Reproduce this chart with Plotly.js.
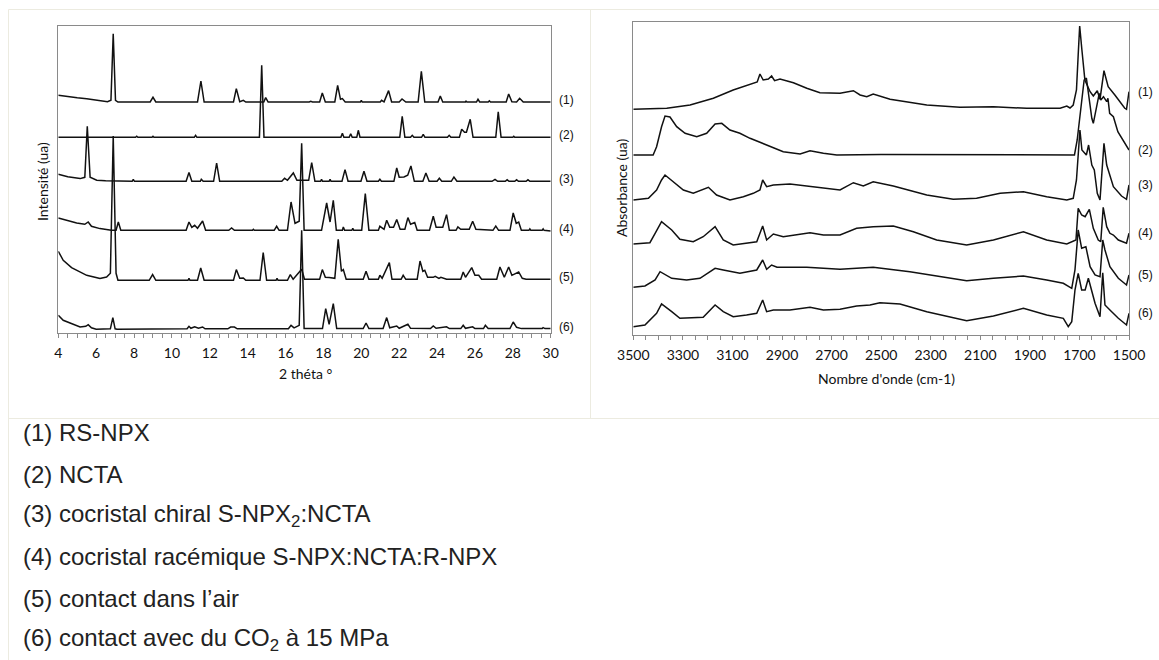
<!DOCTYPE html>
<html>
<head>
<meta charset="utf-8">
<script src="https://cdn.plot.ly/plotly-3.0.1.min.js"></script>
<style>html,body{margin:0;padding:0;background:#fff;}#chart{width:1159px;height:660px;}</style>
</head>
<body>
<div id="chart"></div>
<script>
// ---------- DATA: X-ray diffraction (2 theta, intensity a.u.) ----------
const xrdLabels = ["(1)", "(2)", "(3)", "(4)", "(5)", "(6)"];
const xrdTicks = [4, 6, 8, 10, 12, 14, 16, 18, 20, 22, 24, 26, 28, 30];

const xrd1_x = [4.0,4.5,5.0,5.5,6.2,6.6,6.78,6.9,7.02,7.15,8.85,9.0,9.15,11.35,11.53,11.7,13.25,13.4,13.58,13.77,13.9,14.85,14.95,15.08,17.25,17.33,17.42,17.8,17.94,18.1,18.6,18.75,18.9,19.0,19.15,19.95,20.0,20.05,21.0,21.07,21.2,21.44,21.6,22.0,22.15,22.35,23.0,23.17,23.35,24.05,24.17,24.3,25.5,25.53,25.58,26.08,26.16,26.25,26.7,26.76,26.82,27.65,27.78,27.95,28.2,28.36,28.55,30.0];
const xrd1_y = [238,236.5,235.5,234.5,233,231.5,233,299.5,233,231.3,231.3,236,231.3,231.3,252.3,231.3,231.3,244.7,231.5,233,231.3,231.3,235.7,231.3,231.3,232,231.3,231.3,240.3,231.3,231.3,248,234,234.7,231.3,231.3,233,231.3,231.3,233,231.5,242.7,231.3,231.3,234.3,231.3,231.3,262,231.3,231.3,237.3,231.3,231.3,232.2,231.3,231.3,234,231.3,231.3,232.5,231.3,231.3,239.3,231.5,231.3,235,231.3,231.3];

const xrd2_x = [4.0,8.08,8.14,8.2,8.95,9.0,9.05,11.18,11.25,11.32,14.62,14.74,14.86,18.92,19.0,19.08,19.36,19.44,19.52,19.76,19.84,19.93,22.03,22.16,22.3,22.6,22.69,22.78,23.18,23.27,23.36,24.55,24.64,24.73,25.18,25.3,25.45,25.55,25.75,25.9,27.1,27.23,27.38,28.0,28.05,28.1,30.0];
const xrd2_y = [196,196,197,196,196,197,196,196,198,196,196,268,196,196,200,196,196,199.5,196,196,203,196,196,217,196,196,198,196,196,199,196,196,198,196,196,204,201,201,214,196,196,221.5,196,196,197,196,196];

const xrd3_x = [4.0,4.5,5.15,5.4,5.53,5.68,6.03,6.5,7.9,7.96,8.02,10.75,10.9,11.05,11.5,11.55,11.65,12.2,12.36,12.52,15.8,15.95,16.1,16.41,16.6,17.22,17.38,17.55,17.85,17.9,17.95,18.3,18.35,18.4,18.98,19.14,19.3,19.98,20.14,20.3,20.9,20.98,21.06,21.72,21.87,22.0,22.25,22.45,22.62,22.8,23.25,23.41,23.58,24.0,24.12,24.25,24.75,24.89,25.05,26.9,27.06,27.2,27.6,27.7,27.8,28.1,28.2,28.3,28.7,28.8,28.9,30.0];
const xrd3_y = [159,156.5,154.7,156,207,156,153,152.5,152,154,152,152,160.7,152,152,154,152,152,170.3,152,152,155,153,160.3,153,153,170.7,152,152,154,152,152,154,152,152,163.7,152,152,162,152,152,154,152,152,165.3,156,156.3,158,167.3,152,152,160.3,152,152,155,152,152,156.3,152,152,154,152,152,153.5,152,152,153.5,152,152,153.5,152,152];

const xrd4_x = [4.0,4.5,4.97,5.4,5.58,5.75,6.2,6.8,7.05,7.17,7.3,10.75,10.9,11.05,11.2,11.35,11.62,11.78,13.0,13.15,13.3,14.25,14.3,14.35,15.4,15.53,15.66,16.1,16.29,16.5,16.72,16.85,16.98,17.9,18.17,18.35,18.52,18.68,19.0,19.05,19.12,19.5,19.55,19.6,20.02,20.21,20.4,20.9,20.98,21.2,21.34,21.5,21.7,21.87,22.05,22.3,22.46,22.6,22.82,22.95,23.6,23.8,23.95,24.3,24.5,24.65,25.0,25.1,25.25,25.7,25.88,26.05,26.95,27.1,27.25,27.85,28.02,28.18,28.31,28.45,28.85,28.9,28.95,29.55,29.6,29.65,30.0];
const xrd4_y = [115.3,112.5,110.3,109,111.3,107,104.7,103,103,111.3,103,103,111.3,106,108,105,112.3,103,103,105.3,103,103,104,103,103,107,103,103,131.3,110,112,190,103,103,130.3,111.3,133,103,103,106.3,103,103,105,103,103,139.7,103,103,107,104,113,106,106,113.7,104,104,115.7,109,110.7,103,103,117,106,106,118.7,103,103,106.3,104,104,112,104,103,107.3,103,103,120.3,110,111.3,103,103,104.5,103,103,104.5,103,102.3];

const xrd5_x = [4.0,4.26,4.7,5.5,6.2,6.55,6.75,6.9,7.05,7.15,8.8,8.98,9.15,10.85,10.9,10.95,11.35,11.52,11.7,13.25,13.4,13.58,13.77,13.9,14.65,14.82,15.0,15.5,15.55,15.6,16.1,16.25,16.4,16.85,17.0,17.8,17.94,18.1,18.3,18.6,18.78,18.95,19.05,19.2,20.1,20.25,20.4,20.9,20.98,21.1,21.48,21.62,22.1,22.21,22.35,22.95,23.1,23.25,23.35,23.5,23.8,23.9,24.1,24.2,24.5,25.25,25.38,25.5,25.83,26.0,26.2,26.35,27.15,27.32,27.55,27.78,27.95,28.31,28.5,28.7,30.0];
const xrd5_y = [82,73,65.7,58,54.7,56.3,60,197.3,60,53,53,58.7,53,53,55,53,53,65.3,53,53,63.7,55,55.3,53,53,80.7,53,53,55,53,53,58.7,54,64,54,54,63.7,56,55.7,55,94,62,63.7,54,54,62,54,54,58,55,70.7,54,54,58,54,54,72.3,62,63,56,56,57,55,56,54,54,61.3,56,65.7,58,58,54,54,66.3,56,66.3,58,61.3,55,54,54];

const xrd6_x = [4.0,4.26,5.15,5.45,5.58,5.75,6.0,6.75,6.88,7.0,7.1,10.8,10.9,11.0,11.2,11.4,11.62,11.75,12.95,13.1,13.3,13.45,16.15,16.29,16.45,16.72,16.85,16.98,17.95,18.12,18.3,18.52,18.7,20.1,20.25,20.4,21.15,21.34,21.5,21.87,22.0,22.46,22.6,23.65,23.8,23.95,24.5,24.65,25.25,25.38,25.5,25.88,26.0,26.45,26.55,26.7,27.85,28.02,28.2,28.3,28.45,29.55,29.6,29.7,30.0];
const xrd6_y = [18,13,6.3,7,8.7,5.5,4,4.5,15.7,4.5,4,4.5,7,5,6.5,5,6.3,4.5,4.5,6.3,6.3,4.5,4.5,8,5.5,8,103,4.7,4.7,24.7,9,29.7,4.7,4.7,10.3,4.7,4.7,15.7,5.5,7.3,5,9,5,4.7,7.3,5,6.5,4.7,4.7,8,5,6.5,4.7,4.7,8,4.7,4.7,11.3,6,5.5,4.7,4.7,5.7,4.7,4.7];

// ---------- DATA: infrared spectra (wavenumber cm-1, absorbance a.u.) ----------
const irLabels = ["(1)", "(2)", "(3)", "(4)", "(5)", "(6)"];
const irTicks = [3500, 3300, 3100, 2900, 2700, 2500, 2300, 2100, 1900, 1700, 1500];

const ir1_x = [3500,3365,3271,3177,3097,3016,3000,2989,2976,2955,2942,2930,2908,2854,2800,2747,2666,2612,2585,2558,2532,2464,2316,2182,2047,1913,1778,1751,1738,1725,1712,1705,1699,1690,1678,1657,1644,1628,1617,1601,1584,1557,1517,1510,1500];
const ir1_y = [225.7,226.7,230,236.7,245,251.7,253,261,255,256,259,254.3,256,252.3,246.7,242.3,241.7,244.3,240,238.3,241,235.7,230,227.7,228.3,226.7,226.7,229,227,230,245,280,309,285,255,243.3,239,244.3,235.7,264.3,248.3,240,226.7,225.7,243.3];

const ir2_x = [3500,3420,3406,3386,3372,3352,3325,3291,3244,3204,3170,3143,3110,3070,3029,2962,2895,2827,2787,2733,2679,2500,2300,2100,1950,1720,1709,1695,1681,1672,1660,1650,1644,1630,1620,1614,1603,1590,1585,1578,1563,1545,1517,1500];
const ir2_y = [180,180,188.3,208.3,219,218,208.3,201.7,198.3,201.7,211,211.7,205,201.7,196.7,190,183.3,181,184.3,181.7,180,180.5,180.5,180,180.5,180,195,225,255,257,231.7,216.7,211.7,228.3,241.7,235,238.3,233.3,236.7,221.7,218.3,203.3,191.7,185];

const ir3_x = [3500,3439,3406,3386,3372,3338,3298,3258,3197,3164,3110,3056,3016,2989,2978,2962,2935,2868,2800,2733,2666,2612,2572,2532,2451,2316,2209,2115,2020,1926,1832,1751,1725,1712,1705,1698,1690,1678,1672,1663,1650,1640,1628,1617,1601,1590,1584,1575,1563,1530,1510,1500];
const ir3_y = [135,136.7,145,155,160,153.3,145,141.7,147.7,140,135,138.3,141.7,145,155,148.3,150,151,149,146.7,145,152.3,149,153.3,149,140,135.7,136.7,141.7,143.3,138.3,135,136.7,155,185,205,185,181.7,180,190,170,165,141.7,135,191.7,170,165,158.3,148.3,139,135.7,150];

const ir4_x = [3500,3433,3412,3386,3345,3312,3258,3218,3170,3137,3097,3043,3002,2978,2962,2935,2895,2787,2733,2666,2599,2532,2451,2370,2276,2155,2047,1926,1832,1751,1725,1714,1705,1691,1677,1660,1644,1624,1614,1604,1590,1577,1563,1543,1510,1500];
const ir4_y = [91,92.3,101.7,113.3,105,95.7,93.3,98.3,108.3,95,90,91.7,93.3,109,95,101,98.3,102.3,100,100,106.7,108.3,109,103.3,95,90,95,103.3,95,91,93.3,95,126.7,120,118.3,125.7,106.7,95,93.3,127.7,108.3,101.7,100,95,91.7,101.7];

const ir5_x = [3500,3453,3412,3392,3345,3285,3231,3170,3137,3070,3002,2978,2962,2942,2920,2800,2666,2532,2384,2249,2155,2047,1926,1832,1765,1731,1718,1705,1691,1674,1657,1637,1617,1606,1597,1577,1543,1510,1500];
const ir5_y = [47.7,49,55,63.3,56.7,55,56.7,66.7,65,61.7,65,75,65.7,70,67.7,67.7,65.7,67.7,63.3,58.3,54.3,56.7,59,55,51.7,46.7,65,105,86.7,88.3,68.3,60,58.3,95,85,68.3,56.7,50,60];

const ir6_x = [3500,3453,3406,3386,3345,3312,3218,3170,3137,3097,3043,3002,2978,2962,2935,2868,2787,2733,2666,2599,2545,2505,2424,2316,2155,2047,1926,1832,1765,1745,1731,1718,1705,1691,1677,1664,1637,1617,1606,1597,1577,1543,1510,1500];
const ir6_y = [8.3,10,21.7,31,23.3,16.7,17.7,30,23.3,18.3,20,21.7,35,23.3,25,25,27.7,25,25.7,29,30,32.3,31,23.3,14.3,19,26.7,20,16.7,8.3,13.3,45,61.7,45,45,56.7,31.7,18.3,62.3,30,25,16.7,10,21.7];

// ---------- Legend text below the figure ----------
const legendLines = [
  "(1) RS-NPX",
  "(2) NCTA",
  "(3) cocristal chiral S-NPX<sub>2</sub>:NCTA",
  "(4) cocristal racémique S-NPX:NCTA:R-NPX",
  "(5) contact dans l’air",
  "(6) contact avec du CO<sub>2</sub> à 15 MPa"
];

// ---------- BUILD ----------
const W = 1159, H = 660;
const px = v => v / W;
const py = v => 1 - v / H;
const lineStyle = {color: '#111111', width: 1.5};
const tickFont = {family: 'Lato, "Open Sans", sans-serif', size: 14, color: '#111'};
const titleFont = {family: 'Lato, "Open Sans", sans-serif', size: 14, color: '#111'};
const labFont = {family: '"Liberation Sans", Arial, sans-serif', size: 12, color: '#111'};

const xrdX = [xrd1_x, xrd2_x, xrd3_x, xrd4_x, xrd5_x, xrd6_x];
const xrdY = [xrd1_y, xrd2_y, xrd3_y, xrd4_y, xrd5_y, xrd6_y];
const irX = [ir1_x, ir2_x, ir3_x, ir4_x, ir5_x, ir6_x];
const irY = [ir1_y, ir2_y, ir3_y, ir4_y, ir5_y, ir6_y];

const traces = [];
const annotations = [];
xrdX.forEach((xs, i) => {
  traces.push({x: xs, y: xrdY[i], type: 'scatter', mode: 'lines', line: lineStyle, xaxis: 'x', yaxis: 'y', hoverinfo: 'skip', showlegend: false});
  annotations.push({xref: 'paper', yref: 'y', x: px(557), y: xrdY[i][xrdY[i].length - 1], text: xrdLabels[i], showarrow: false, xanchor: 'left', yanchor: 'middle', yshift: 2, font: labFont});
});
irX.forEach((xs, i) => {
  traces.push({x: xs, y: irY[i], type: 'scatter', mode: 'lines', line: lineStyle, xaxis: 'x2', yaxis: 'y2', hoverinfo: 'skip', showlegend: false});
  annotations.push({xref: 'paper', yref: 'y2', x: px(1136), y: irY[i][irY[i].length - 1], text: irLabels[i], showarrow: false, xanchor: 'left', yanchor: 'middle', font: labFont});
});

// axis titles
annotations.push({xref: 'paper', yref: 'paper', x: px(305), y: py(373), text: '2 théta °', showarrow: false, xanchor: 'center', yanchor: 'middle', font: titleFont});
annotations.push({xref: 'paper', yref: 'paper', x: px(42), y: py(182), text: 'Intensité (ua)', textangle: -90, showarrow: false, xanchor: 'center', yanchor: 'middle', font: titleFont});
annotations.push({xref: 'paper', yref: 'paper', x: px(886), y: py(378), text: "Nombre d'onde (cm-1)", showarrow: false, xanchor: 'center', yanchor: 'middle', font: titleFont});
annotations.push({xref: 'paper', yref: 'paper', x: px(621), y: py(188), text: 'Absorbance (ua)', textangle: -90, showarrow: false, xanchor: 'center', yanchor: 'middle', font: titleFont});

legendLines.forEach((t, i) => {
  annotations.push({xref: 'paper', yref: 'paper', x: px(21), y: py(433 + i * 41.3), text: t, showarrow: false, xanchor: 'left', yanchor: 'middle', font: {family: '"Liberation Sans", Arial, sans-serif', size: 24, color: '#222'}});
});

const frameColor = '#ecebe0';
const shapes = [
  {type: 'line', xref: 'paper', yref: 'paper', x0: px(8.5), x1: px(8.5), y0: py(9.5), y1: 0, line: {color: frameColor, width: 1}},
  {type: 'line', xref: 'paper', yref: 'paper', x0: px(8.5), x1: 1, y0: py(9.5), y1: py(9.5), line: {color: frameColor, width: 1}},
  {type: 'line', xref: 'paper', yref: 'paper', x0: px(8.5), x1: 1, y0: py(418.5), y1: py(418.5), line: {color: frameColor, width: 1}},
  {type: 'line', xref: 'paper', yref: 'paper', x0: px(590.5), x1: px(590.5), y0: py(9.5), y1: py(418.5), line: {color: frameColor, width: 1}}
];

const axisLine = '#8a8a8a';
const layout = {
  width: W, height: H,
  margin: {l: 0, r: 0, t: 0, b: 0},
  paper_bgcolor: '#ffffff', plot_bgcolor: '#ffffff',
  showlegend: false,
  xaxis: {
    domain: [px(58.3), px(550.7)], range: [4, 30], anchor: 'y',
    tickmode: 'array', tickvals: xrdTicks, ticktext: xrdTicks.map(String),
    ticks: 'outside', ticklen: 4, tickcolor: axisLine, tickwidth: 1,
    minor: {tickmode: 'linear', tick0: 4, dtick: 0.5, ticks: 'outside', ticklen: 4, tickcolor: axisLine},
    showline: true, mirror: true, linecolor: axisLine, linewidth: 1,
    showgrid: false, zeroline: false, tickfont: tickFont, ticklabelstandoff: 3
  },
  yaxis: {
    domain: [py(333.3), py(26)], range: [0, 307.3], anchor: 'x',
    showticklabels: false, ticks: '', showgrid: false, zeroline: false,
    showline: true, mirror: true, linecolor: axisLine, linewidth: 1
  },
  xaxis2: {
    domain: [px(633.3), px(1129)], range: [3500, 1500], anchor: 'y2',
    tickmode: 'array', tickvals: irTicks, ticktext: irTicks.map(String),
    ticks: 'outside', ticklen: 4, tickcolor: axisLine, tickwidth: 1,
    minor: {tickmode: 'linear', tick0: 1500, dtick: 50, ticks: 'outside', ticklen: 4, tickcolor: axisLine},
    showline: true, mirror: true, linecolor: axisLine, linewidth: 1,
    showgrid: false, zeroline: false, tickfont: tickFont, ticklabelstandoff: 3
  },
  yaxis2: {
    domain: [py(335), py(22.3)], range: [0, 312.7], anchor: 'x2',
    showticklabels: false, ticks: '', showgrid: false, zeroline: false,
    showline: true, mirror: true, linecolor: axisLine, linewidth: 1
  },
  annotations: annotations,
  shapes: shapes
};

Plotly.newPlot('chart', traces, layout, {displayModeBar: false, staticPlot: true});
</script>
</body>
</html>
